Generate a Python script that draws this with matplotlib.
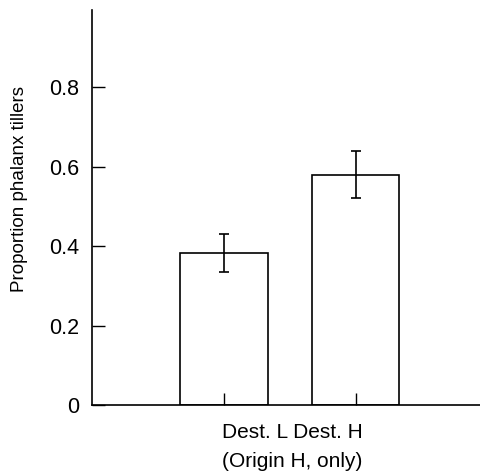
import numpy as np
import matplotlib.pyplot as plt

plt.rcParams['font.family'] = ['Liberation Sans', 'DejaVu Sans']

# data
groups = ['Dest. L', 'Dest. H']
props = [0.382, 0.580]
errs = [0.048, 0.060]
yticks = [0, 0.2, 0.4, 0.6, 0.8]
yticklabels = ['0', '0.2', '0.4', '0.6', '0.8']

fig = plt.figure(figsize=(4.8, 4.74), dpi=100)
ax = fig.add_axes([92 / 480, 69 / 474, 1 - 92 / 480, 395 / 474])

x = np.arange(len(groups))
ax.bar(x, props, width=0.66, color='white', edgecolor='black', linewidth=1.2,
       yerr=errs, error_kw=dict(ecolor='black', elinewidth=1.2, capsize=3.4, capthick=1.2))

ax.set_xlim(-1.0, 1.94)
ax.set_ylim(0, 0.994)
ax.set_xticks(x)
ax.set_xticklabels(['', ''])
ax.set_yticks(yticks)
ax.set_yticklabels(yticklabels)
ax.tick_params(axis='both', direction='in', length=9, width=1.0, labelsize=15.5, pad=9)

for s in ['top', 'right']:
    ax.spines[s].set_visible(False)
for s in ['left', 'bottom']:
    ax.spines[s].set_linewidth(1.2)

ax.set_ylabel('Proportion phalanx tillers', fontsize=13.5)
ax.yaxis.set_label_coords(-64 / 388, (405 - 189) / 395, transform=ax.transAxes)
ax.set_xlabel(' '.join(groups) + '\n(Origin H, only)', fontsize=15, linespacing=1.7)
ax.xaxis.set_label_coords((292 - 92) / 388, -(447 - 405) / 395, transform=ax.transAxes)
ax.xaxis.label.set_va('center')

fig.savefig('out.png', dpi=100)
